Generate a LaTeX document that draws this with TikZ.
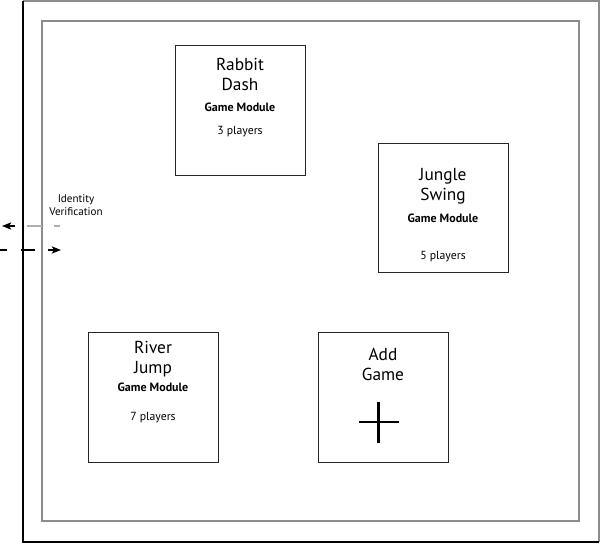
\documentclass[tikz,border=0pt]{standalone}
\usepackage{fontspec}
\setmainfont{PT Sans}
\usetikzlibrary{arrows.meta}
\definecolor{framegray}{RGB}{140,140,140}
\definecolor{linegray}{RGB}{175,175,175}
\tikzset{
  modbox/.style={draw=black!85, line width=0.75pt, fill=white},
  ttl/.style={font=\fontsize{13}{15}\selectfont, align=center, inner sep=0pt},
  sub/.style={font=\fontsize{9}{10}\selectfont\bfseries, inner sep=0pt},
  cnt/.style={font=\fontsize{8.8}{10}\selectfont, inner sep=0pt},
  lbl/.style={font=\fontsize{8.3}{10}\selectfont, align=center, inner sep=0pt},
  tip/.style={-{Stealth[length=7pt,width=5.5pt,inset=1.8pt]}}
}
\begin{document}
\begin{tikzpicture}[x=0.75pt,y=-0.75pt]
\useasboundingbox (0,0) rectangle (600,544);
% outer frame
\draw[framegray, line width=1pt] (23,1) -- (599,1) -- (599,542);
\draw[black, line width=1pt] (23,1) -- (23,542) -- (599,542);
% inner frame
\draw[framegray, line width=1.2pt] (42,21) rectangle (579,521);
% modules
\draw[modbox] (175,45) rectangle (305,175);
\node[ttl] (rdt) at (240,74) {Rabbit\\Dash};
\node[sub] (rds) at (240,107) {Game Module};
\node[cnt] (rdc) at (240,132) {3 players};

\draw[modbox] (378,143) rectangle (508,272);
\node[ttl] (jst) at (443,186) {Jungle\\Swing};
\node[sub] (jss) at (443,218) {Game Module};
\node[cnt] (jsc) at (443,257) {5 players};

\draw[modbox] (88,332) rectangle (218,462);
\node[ttl] (rjt) at (153,359) {River\\Jump};
\node[sub] (rjs) at (153,387) {Game Module};
\node[cnt] (rjc) at (153,418) {7 players};

\draw[modbox] (318,332) rectangle (448,462);
\node[ttl] (agt) at (383,364) {Add\\Game};
\coordinate (pc) at (378.5,422);
\draw[line width=1.6pt] ([xshift=-15pt]pc) -- ([xshift=15pt]pc);
\draw[line width=1.6pt] ([yshift=15pt]pc) -- ([yshift=-15.5pt]pc);

% identity verification
\node[lbl] (idv) at (76,205) {Identity\\Verification};
\coordinate (a1) at (60,226);
\coordinate (a3) at (27,226);
\coordinate (a4) at (15,226);
\coordinate (a2) at (2,226);
\coordinate (b1) at (0,250);
\coordinate (b3) at (35,250);
\coordinate (b4) at (48,250);
\coordinate (b2) at (61,250);
\draw[linegray, line width=0.8pt, dash pattern=on 4.5pt off 9pt on 12pt off 20pt] (a1) -- (a3);
\draw[black, line width=0.8pt, tip] (a4) -- (a2);
\draw[black, line width=0.8pt, dash pattern=on 5.25pt off 10.5pt on 11pt off 20pt] (b1) -- (b3);
\draw[black, line width=0.8pt, tip] (b4) -- (b2);
\end{tikzpicture}
\end{document}
